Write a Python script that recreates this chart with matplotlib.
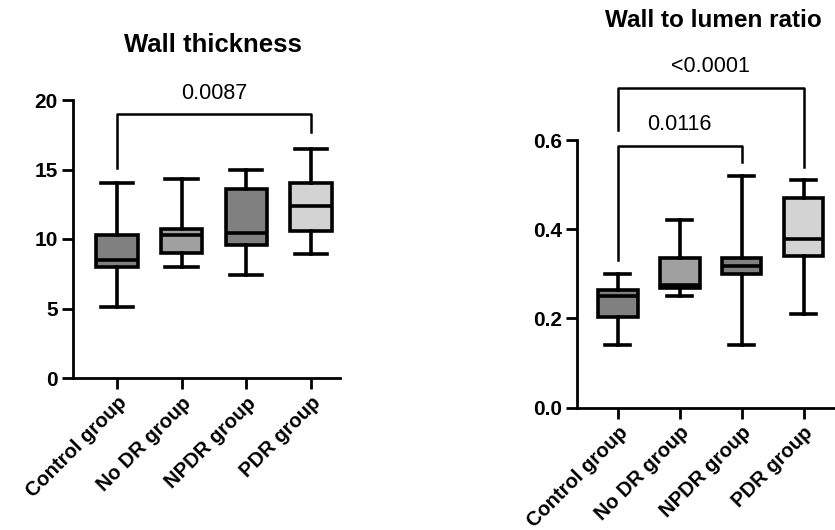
import matplotlib
matplotlib.use("Agg")
import matplotlib.pyplot as plt

plt.rcParams['font.family'] = ['Liberation Sans', 'DejaVu Sans']

groups = ["Control group", "No DR group", "NPDR group", "PDR group"]
fills = ["#808080", "#a0a0a0", "#808080", "#d3d3d3"]

# Wall thickness
wt_min = [5.1, 8.0, 7.4, 8.9]
wt_q1 = [8.0, 9.0, 9.6, 10.6]
wt_med = [8.5, 10.3, 10.4, 12.4]
wt_q3 = [10.3, 10.7, 13.6, 14.0]
wt_max = [14.0, 14.3, 15.0, 16.5]

# Wall to lumen ratio
wl_min = [0.14, 0.25, 0.14, 0.21]
wl_q1 = [0.203, 0.268, 0.30, 0.34]
wl_med = [0.25, 0.275, 0.318, 0.378]
wl_q3 = [0.265, 0.335, 0.335, 0.47]
wl_max = [0.30, 0.42, 0.52, 0.51]

W, H = 835, 530
fig = plt.figure(figsize=(W / 100, H / 100), dpi=100)


def px_axes(x0, x1, ybot, ytop):
    return fig.add_axes([x0 / W, (H - ybot) / H, (x1 - x0) / W, (ybot - ytop) / H])


def make_stats(mn, q1, med, q3, mx):
    return [dict(whislo=a, q1=b, med=c, q3=d, whishi=e, fliers=[], label=g)
            for a, b, c, d, e, g in zip(mn, q1, med, q3, mx, groups)]


def draw(ax, stats, capw):
    lw = 2.6
    bp = ax.bxp(stats, positions=range(1, 5), widths=0.64, patch_artist=True,
                showfliers=False, capwidths=capw,
                boxprops=dict(linewidth=lw, edgecolor='black'),
                whiskerprops=dict(linewidth=lw, color='black'),
                capprops=dict(linewidth=lw, color='black'),
                medianprops=dict(linewidth=lw, color='black'))
    for p, c in zip(bp['boxes'], fills):
        p.set_facecolor(c)
    for s in ['top', 'right']:
        ax.spines[s].set_visible(False)
    for s in ['left', 'bottom']:
        ax.spines[s].set_linewidth(2.0)
    ax.tick_params(axis='both', width=2.0, length=8, labelsize=15, pad=3)
    ax.set_xticks(range(1, 5))
    ax.set_xticklabels(groups, rotation=45, ha='right', rotation_mode='anchor',
                       fontsize=14.5, fontweight='bold')
    for t in ax.get_yticklabels():
        t.set_fontweight('bold')


def bracket(ax, x1, x2, y, yl, yr, text, ty):
    ax.plot([x1, x1, x2, x2], [yl, y, y, yr], color='black', lw=1.8, clip_on=False)
    ax.text((x1 + x2) / 2, ty, text, ha='center', va='center', fontsize=15.5)


# Left panel: x 73..340 px, y=0 at 378 px, 13.9 px/unit
ax1 = px_axes(73, 340, 378, 378 - 21.5 * 13.9)
draw(ax1, make_stats(wt_min, wt_q1, wt_med, wt_q3, wt_max), 0.5)
ax1.set_xlim(0.32, 4.45)
ax1.set_ylim(0, 21.5)
ax1.set_yticks([0, 5, 10, 15, 20])
ax1.set_yticklabels(['0', '5', '10', '15', '20'], fontweight='bold')
ax1.spines['left'].set_bounds(0, 20)
bracket(ax1, 1, 4, 19.0, 15.1, 17.7, "0.0087", 20.5)
ax1.set_title("Wall thickness", fontsize=18.5, fontweight='bold', pad=0,
              y=(378 - 45) / (21.5 * 13.9), va='center', x=(213 - 73) / (340 - 73))

# Right panel: x 577..(beyond), y=0 at 407.7 px, 446 px/unit
x_right = 577 + (4.6 - 0.34) * 61.9
ax2 = px_axes(577, x_right, 407.7, 407.7 - 0.8 * 446)
draw(ax2, make_stats(wl_min, wl_q1, wl_med, wl_q3, wl_max), 0.4)
ax2.set_xlim(0.34, 4.6)
ax2.set_ylim(0, 0.8)
ax2.set_yticks([0.0, 0.2, 0.4, 0.6])
ax2.set_yticklabels(['0.0', '0.2', '0.4', '0.6'], fontweight='bold')
ax2.spines['left'].set_bounds(0, 0.6)
bracket(ax2, 1, 3, 0.587, 0.331, 0.552, "0.0116", 0.634)
bracket(ax2, 1, 4, 0.717, 0.623, 0.54, "<0.0001", 0.764)
ax2.set_title("Wall to lumen ratio", fontsize=17.5, fontweight='bold', pad=0,
              y=(407.7 - 21) / (0.8 * 446), va='center', x=(713 - 577) / (x_right - 577))

fig.savefig("out.png", dpi=100)
